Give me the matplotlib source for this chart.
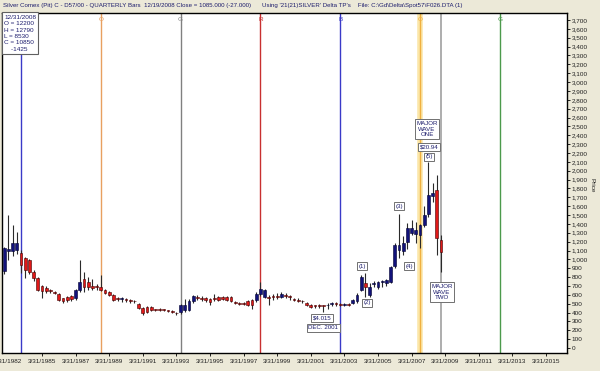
import matplotlib
matplotlib.use("Agg")
import numpy as np
import matplotlib.pyplot as plt
from matplotlib.ticker import FixedLocator, FuncFormatter

# quarterly bars, 12/31/1982 .. 12/31/2008 (price in cents)
FIRST_QUARTER_END = 1983.0
opens = [865, 1090, 1090, 1105, 1068, 1011, 990, 860, 786, 699,
         680, 650, 628, 610, 560, 578, 585, 560, 650, 774,
         740, 705, 690, 690, 655, 635, 600, 555, 550, 545,
         535, 530, 495, 447, 465, 458, 432, 435, 430, 420,
         412, 398, 405, 430, 430, 530, 580, 570, 560, 550,
         560, 575, 575, 575, 575, 515, 505, 500, 530, 540,
         541, 612, 580, 575, 580, 585, 580, 595, 580, 550,
         540, 530, 508, 485, 475, 480, 478, 480, 500, 500,
         490, 488, 490, 508, 525, 654, 729, 598, 725, 692,
         745, 729, 748, 921, 1110, 1100, 1200, 1300, 1290, 1280,
         1390, 1510, 1710, 1780, 1220]
highs = [1140, 1500, 1390, 1310, 1105, 1030, 1000, 880, 800, 711,
         695, 665, 645, 625, 570, 590, 600, 670, 990, 861,
         800, 780, 720, 820, 670, 645, 610, 575, 580, 565,
         550, 545, 510, 460, 475, 470, 445, 450, 442, 432,
         425, 410, 500, 550, 550, 600, 600, 585, 575, 560,
         615, 585, 585, 590, 585, 525, 520, 520, 540, 550,
         630, 745, 670, 600, 610, 620, 630, 620, 600, 570,
         560, 545, 520, 495, 490, 495, 490, 505, 520, 515,
         505, 510, 505, 555, 620, 825, 842, 729, 760, 760,
         770, 780, 930, 1180, 1515, 1260, 1410, 1440, 1420, 1400,
         1600, 2094, 1860, 1950, 1279]
lows = [830, 990, 1040, 1060, 842, 790, 840, 760, 640, 565,
        620, 625, 605, 535, 505, 520, 535, 540, 630, 636,
        650, 650, 650, 640, 610, 590, 535, 530, 520, 515,
        510, 505, 440, 375, 400, 420, 415, 420, 415, 405,
        398, 375, 385, 410, 420, 510, 540, 530, 520, 490,
        535, 530, 540, 530, 520, 495, 480, 480, 470, 445,
        520, 590, 560, 480, 540, 550, 560, 560, 545, 530,
        520, 510, 475, 455, 455, 450, 402, 440, 470, 475,
        470, 475, 470, 495, 510, 640, 579, 579, 690, 670,
        690, 700, 730, 900, 1010, 1050, 1120, 1280, 1190, 1130,
        1370, 1480, 1650, 1050, 853]
closes = [1124, 1115, 1180, 1188, 936, 880, 861, 786, 654, 647,
          645, 645, 622, 545, 525, 542, 550, 655, 750, 684,
          690, 680, 685, 655, 625, 600, 545, 550, 555, 540,
          530, 525, 450, 400, 412, 430, 428, 432, 428, 416,
          408, 390, 485, 485, 530, 587, 570, 555, 540, 520,
          555, 545, 555, 545, 530, 510, 500, 497, 485, 485,
          612, 669, 650, 565, 575, 580, 615, 590, 575, 545,
          535, 525, 485, 466, 470, 478, 470, 485, 505, 495,
          485, 495, 485, 541, 600, 804, 692, 692, 732, 748,
          750, 767, 917, 1166, 1160, 1180, 1350, 1350, 1330, 1390,
          1500, 1730, 1750, 1240, 1085]

# time cycle lines (quarter-end dates)
cycle_dates = [1984.0, 1988.75, 1993.5, 1998.25, 2003.0, 2007.75, 2012.5]
cycle_letters = ['', 'O', 'G', 'R', 'B', 'O', 'G']
cycle_colors = ['#3a3ac8', '#e8a060', '#808080', '#c83030', '#3a3ac8', '#f0b040', '#4c9a4c']
current_bar = 2009.0

tick_dates = [1983.25 + 2 * i for i in range(17)]
tick_labels = ['3/31/1982'] + ['3/31/%d' % y for y in range(1985, 2017, 2)]

o = np.array(opens, float)
h = np.array(highs, float)
l = np.array(lows, float)
c = np.array(closes, float)
t = FIRST_QUARTER_END + 0.25 * np.arange(len(o))

BG = '#ece9d8'
NAVY = '#1c1c6c'
FONT = 'Liberation Sans'

fig = plt.figure(figsize=(6.0, 3.71), dpi=100, facecolor=BG)
ax = fig.add_axes([2 / 600, 18 / 371, 565 / 600, 340 / 371])
ax.set_facecolor('white')

# cycle lines
ax.axvline(cycle_dates[5], color='#fbe6a8', lw=4, zorder=1)
for d, col in zip(cycle_dates, cycle_colors):
    ax.axvline(d, color=col, lw=1, zorder=1)
ax.axvline(current_bar, color='#a0a0a0', lw=1.2, zorder=1)
for d, letter, col in zip(cycle_dates, cycle_letters, cycle_colors):
    ax.text(d, 0.988, letter, transform=ax.get_xaxis_transform(), ha='center', va='top',
            fontsize=4.6, color=col, family=FONT)

# candles
up = c >= o
body_lo = np.minimum(o, c)
body_h = np.maximum(np.abs(c - o), 10)
ax.vlines(t, l, h, color='#2a2a2a', lw=0.8, zorder=2)
ax.bar(t[up], body_h[up], bottom=body_lo[up], width=0.17, color='#12127a',
       edgecolor='#000030', lw=0.4, zorder=3)
ax.bar(t[~up], body_h[~up], bottom=body_lo[~up], width=0.17, color='#e01818',
       edgecolor='#400000', lw=0.4, zorder=3)

ax.set_xlim(1982.87, 2016.5)
ax.set_ylim(-56, 3779)

ax.yaxis.tick_right()
ax.yaxis.set_major_locator(FixedLocator(np.arange(0, 3701, 100)))
ax.yaxis.set_major_formatter(FuncFormatter(lambda v, p: '{:,}'.format(int(v))))
ax.tick_params(axis='y', length=2.5, width=0.6, pad=1, labelsize=4.6, labelcolor='#202020')
ax.xaxis.set_major_locator(FixedLocator(tick_dates[1:]))
ax.set_xticklabels(tick_labels[1:])
ax.tick_params(axis='x', length=2.5, width=0.6, pad=2, labelsize=4.6, labelcolor='#202020')
for lab in ax.get_xticklabels() + ax.get_yticklabels():
    lab.set_family(FONT)
ax.annotate(tick_labels[0], xy=(tick_dates[0], 0), xycoords=('data', 'axes fraction'),
            xytext=(0, -4.5), textcoords='offset points', ha='center', va='top',
            fontsize=4.6, color='#202020', family=FONT, annotation_clip=False)
for s in ax.spines.values():
    s.set_color('black')
    s.set_linewidth(1)

fig.text(592 / 600, 1 - 185 / 371, 'Price', rotation=270, ha='center', va='center',
         fontsize=4.6, color='#202020', family=FONT)

# header
fig.text(3 / 600, 1 - 6 / 371, 'Silver Comex (Pit) C - D57/00 - QUARTERLY Bars  12/19/2008 Close = 1085.000 (-27.000)',
         ha='left', va='center', fontsize=4.4, color=NAVY, family=FONT)
fig.text(262 / 600, 1 - 6 / 371, "Using '21(21)SILVER' Delta TP's    File: C:\\Gd\\Delta\\Spot57\\F026.DTA (1)",
         ha='left', va='center', fontsize=4.4, color=NAVY, family=FONT)

# info box
ax.text(0.004, 0.995, '12/31/2008\nO = 12200\nH = 12790\nL = 8530\nC = 10850\n    -1425',
        transform=ax.transAxes, ha='left', va='top', fontsize=4.6, color=NAVY, family=FONT,
        linespacing=1.35, zorder=6,
        bbox=dict(boxstyle='square,pad=0.35', fc='white', ec='#606060', lw=0.8))

# wave annotations
box = dict(boxstyle='square,pad=0.25', fc='white', ec='#707070', lw=0.7)
notes = [('$4.015', 2001.92, 338), ('DEC. 2001', 2001.98, 226),
         ('(1)', 2004.30, 925), ('(2)', 2004.60, 508), ('(3)', 2006.50, 1602),
         ('(4)', 2007.10, 925), ('MAJOR\nWAVE\nONE', 2008.17, 2470),
         ('$20.94', 2008.29, 2267), ('(5)', 2008.29, 2155),
         ('MAJOR\nWAVE\nTWO', 2009.06, 632)]
for txt, x, y in notes:
    ax.text(x, y, txt, ha='center', va='center', fontsize=4.4, color=NAVY, family=FONT,
            linespacing=1.2, zorder=5, bbox=box)

fig.savefig('out.png', dpi=100, facecolor=BG)
